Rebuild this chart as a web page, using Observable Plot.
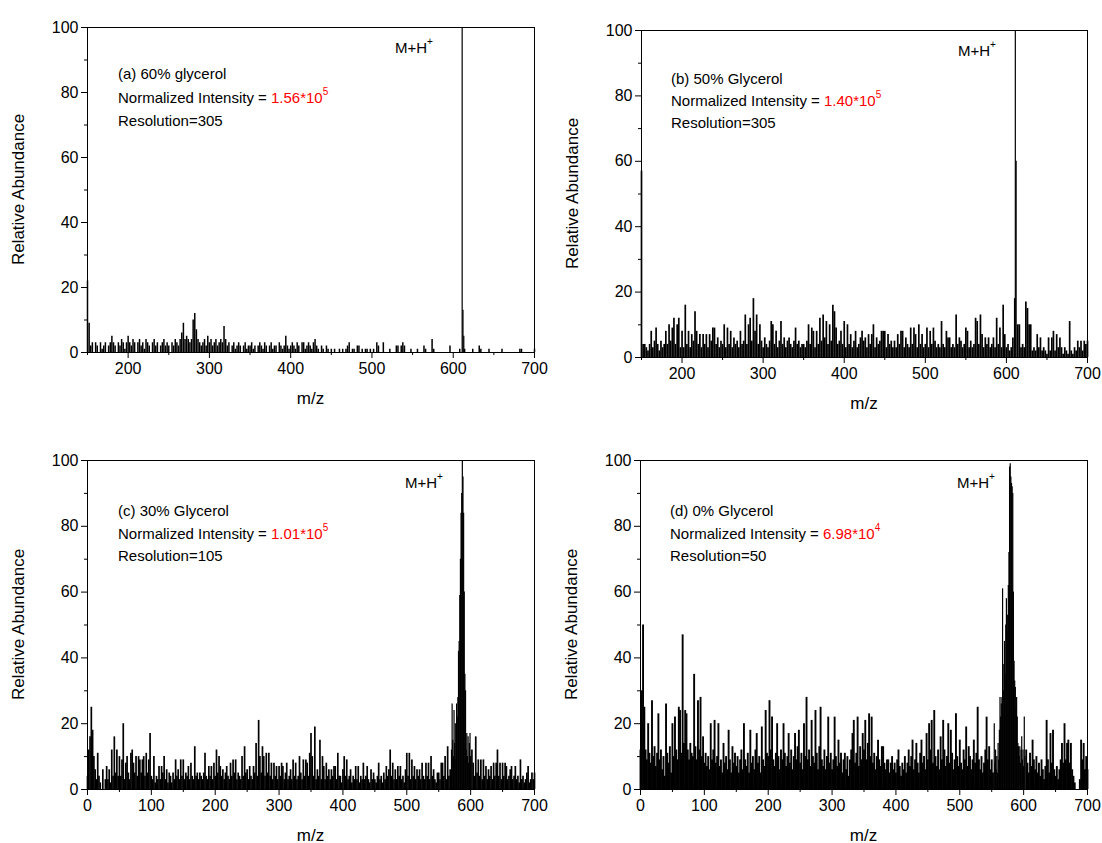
<!DOCTYPE html>
<html>
<head>
<meta charset="utf-8">
<script src="https://cdn.jsdelivr.net/npm/d3@7"></script>
<script src="https://cdn.jsdelivr.net/npm/@observablehq/plot@0.6"></script>
<style>
  html, body { margin: 0; padding: 0; background: #fff; }
  #wrap { position: relative; width: 1102px; height: 843px; overflow: hidden; background: #fff; }
  .panel { position: absolute; }
</style>
</head>
<body>
<div id="wrap"></div>
<script>
// ---------- DATA ----------
// Noise spectra: relative abundance sampled every 2 m/z units
// (a) 60% glycerol, m/z 150 .. 700
const noiseA = [
  22,9,2,3,0, 3,2,0,3,1, 2,3,0,2,3, 5,3,2,0,3, 2,4,3,1,3,
  5,3,2,4,3, 0,3,4,2,3, 1,4,3,2,0, 3,4,2,3,0, 2,3,4,2,3,
  2,0,3,2,4, 3,2,4,6,9, 4,5,4,3,4, 10,12,7,4,3, 2,3,4,2,5,
  3,4,2,3,4, 2,3,4,3,8, 4,2,3,0,2, 3,1,2,3,2, 0,2,3,1,2,
  2,3,1,2,0, 2,3,2,1,3, 2,0,2,3,1, 2,2,0,3,2, 1,2,5,2,1,
  2,3,2,1,3, 2,0,3,3,1, 2,3,2,1,3, 4,2,1,0,2, 1,0,2,1,0,
  1,0,1,0,0, 1,0,1,0,1, 2,3,0,1,1, 0,2,2,0,1, 0,1,1,0,1,
  0,1,0,3,2, 0,0,3,0,0, 0,1,0,0,0, 2,2,0,2,3, 2,0,0,0,1,
  0,0,0,1,0, 0,0,2,1,0, 0,0,4,1,0, 0,0,0,0,0, 0,0,0,2,0,
  0,0,0,0,1, 0,0,1,0,0, 0,0,1,0,0, 0,2,1,0,0, 0,0,1,0,0,
  0,0,0,0,0, 1,0,0,0,0, 0,0,0,0,0, 0,1,1,0,0, 0,0,0,0,0,
  1
];
// (b) 50% Glycerol, m/z 150 .. 700
const noiseB = [
  57,4,4,3,2, 4,8,3,5,9, 4,2,5,3,4, 8,4,10,5,9, 12,4,10,12,3,
  8,3,16,4,8, 3,7,5,14,8, 4,7,3,7,4, 7,3,7,5,9, 9,4,6,3,5,
  4,10,3,9,4, 8,3,6,4,5, 3,8,4,5,13, 4,10,12,5,18, 8,13,4,10,5,
  3,6,4,3,5, 11,10,4,8,3, 5,11,4,6,3, 5,6,4,3,5, 9,4,5,3,4,
  4,3,5,10,4, 9,8,3,8,4, 12,5,13,6,11, 4,10,5,16,14, 9,4,5,8,4,
  11,3,10,4,7, 3,5,8,3,4, 6,8,5,6,3, 7,4,7,10,3, 6,4,5,8,8,
  8,3,7,4,5, 3,5,3,7,4, 8,8,3,6,4, 3,9,4,9,7, 3,10,4,7,3,
  4,9,3,8,4, 9,5,3,4,3, 11,4,3,8,6, 6,3,4,3,13, 4,6,5,3,4,
  9,8,3,5,3, 4,12,11,4,13, 7,3,6,4,6, 3,4,6,3,12, 4,9,3,16,7,
  3,4,2,3,6, 0,0,10,10,3, 4,3,17,15,10, 10,2,3,2,7, 3,6,2,3,2,
  1,6,2,6,8, 2,7,3,6,3, 1,3,2,1,11, 2,1,3,2,5, 3,5,2,5,4,
  5
];
// (c) 30% Glycerol, m/z 0 .. 700
const noiseC = [
  4,12,16,25,18, 10,6,3,11,4, 2,0,6,0,3, 7,3,6,2,12, 4,16,5,12,4,
  10,4,9,20,3, 8,10,5,3,11, 12,8,5,10,4, 10,9,5,9,10, 4,11,5,9,17,
  4,3,10,2,4, 3,7,3,7,5, 10,3,6,2,5, 4,2,5,3,9, 4,6,3,9,4,
  9,3,5,4,7, 3,8,4,3,13, 4,5,3,5,4, 3,5,11,4,3, 7,4,7,3,8,
  4,12,5,10,7, 4,6,3,5,7, 4,3,8,4,9, 5,9,3,5,4, 3,10,4,13,5,
  6,3,7,4,3, 7,5,14,4,21, 10,5,13,10,4, 11,5,11,4,8, 3,8,4,7,3,
  7,4,8,7,3, 5,8,3,4,6, 3,9,4,8,3, 4,10,5,3,9, 4,9,8,4,11,
  17,10,4,19,3, 6,4,15,3,10, 7,3,8,4,6, 3,6,4,7,7, 3,11,4,4,2,
  6,10,4,9,3, 4,6,2,4,3, 7,3,7,2,4, 3,8,3,4,7, 3,2,6,3,5,
  3,2,4,8,3, 4,2,5,3,7, 4,6,12,4,8, 3,6,3,7,4, 7,3,4,2,6,
  11,4,11,3,9, 4,7,3,6,4, 6,3,8,4,3, 8,4,8,3,10, 4,6,3,2,5,
  5,3,8,8,4, 10,3,13,4,6, 0,0,0,0,0, 0,0,0,0,0, 0,0,0,0,0,
  0,12,8,4,16, 5,9,4,9,3, 9,4,7,3,6, 4,7,3,8,4, 8,12,4,8,3,
  8,4,8,7,3, 4,6,7,3,4, 7,3,4,2,9, 3,4,2,3,5, 7,2,3,5,3,
  5
];
// (d) 0% Glycerol, m/z 0 .. 700
const noiseD = [
  12,30,50,25,12, 9,20,11,8,27, 10,13,7,11,23, 9,12,6,10,4, 26,11,8,13,5,
  20,10,22,12,9, 25,24,11,47,14, 24,23,12,9,14, 11,10,35,13,9, 27,12,28,10,16,
  8,11,7,10,6, 20,9,12,21,8, 10,20,7,9,5, 14,8,10,6,18, 9,5,13,8,11,
  7,10,5,9,12, 6,20,9,7,11, 5,18,8,10,6, 12,17,8,10,5, 19,9,7,24,11,
  10,27,12,22,9, 7,11,20,10,6, 12,9,20,11,7, 10,17,8,12,6, 10,17,9,13,18,
  8,11,6,20,10, 28,9,12,7,21, 10,8,24,11,6, 13,25,9,7,12, 6,10,22,8,11,
  6,9,22,10,7, 15,8,11,5,9, 11,6,10,4,9, 12,17,21,8,11, 22,7,13,9,17,
  12,21,9,14,23, 10,22,8,11,6, 10,15,9,7,13, 13,8,6,9,9, 5,8,10,6,8,
  5,9,12,7,4, 8,6,10,5,8, 12,7,10,15,6, 9,14,8,5,11, 15,8,10,6,17,
  9,20,12,21,8, 24,10,7,12,6, 16,9,21,12,7, 10,20,8,18,11, 6,9,23,10,7,
  15,8,6,12,9, 19,7,13,10,6, 9,15,8,11,25, 9,6,10,5,8, 12,22,9,13,6,
  9,5,0,0,0, 0,0,0,0,0, 0,0,0,0,0, 0,0,0,0,0, 0,0,0,0,0,
  0,0,12,8,5, 11,7,15,9,6, 10,5,8,4,9, 6,3,7,21,9, 5,17,8,18,6,
  4,7,3,6,9, 14,8,20,9,14, 15,8,14,6,4, 2,0,0,0,3, 15,9,14,6,10,
  6
];
// Molecular-ion (M+H+) peak regions, 1 m/z resolution
const peakAmz  = [611, 612, 613];
const peakAval = [100, 13, 5];
const peakBmz  = [610, 611, 612];
const peakBval = [18, 100, 60];
const peakCmz  = [570,571,572,573,574,575,576,577,578,579,580,581,582,583,584,585,586,587,588,589,590,591,592,593,594,595,596,597,598,599,600];
const peakCval = [12,26,15,10,24,14,20,9,26,22,28,42,45,59,70,84,90,100,95,84,60,35,30,12,17,10,16,8,14,17,10];
const peakDmz  = [554,555,556,557,558,559,560,561,562,563,564,565,566,567,568,569,570,571,572,573,574,575,576,577,578,579,580,581,582,583,584,585,586,587,588,589,590,591,592,593,594,595,596,597,598,599,600,601,602];
const peakDval = [20,8,12,6,10,5,14,9,18,28,22,26,28,61,30,38,45,35,50,58,48,53,62,72,98,99,95,93,92,90,60,39,33,31,25,28,22,14,13,10,13,8,12,16,9,12,7,22,10];

// Axis ticks
const yMajor = [0, 20, 40, 60, 80, 100];
const yMinor = [10, 30, 50, 70, 90];
const xMajorHigh = [200, 300, 400, 500, 600, 700];
const xMinorHigh = [150, 250, 350, 450, 550, 650];
const xMajorFull = [0, 100, 200, 300, 400, 500, 600, 700];
const xMinorFull = [50, 150, 250, 350, 450, 550, 650];

// Texts
const titles = ["(a) 60% glycerol", "(b) 50% Glycerol", "(c) 30% Glycerol", "(d) 0% Glycerol"];
const intensityMant = ["1.56*10", "1.40*10", "1.01*10", "6.98*10"];
const intensityExp = ["5", "5", "5", "4"];
const resolutions = ["Resolution=305", "Resolution=305", "Resolution=105", "Resolution=50"];
const yTitle = "Relative Abundance";
const xTitle = "m/z";

// ---------- LAYOUT ----------
const FONT = "'Liberation Sans', Arial, Helvetica, sans-serif";
const ML = 90, MR = 15, MT = 30, MB = 70;
const panels = [
  { box: [87, 27, 534, 352],  domain: [150, 700], start: 150, noise: noiseA, pm: peakAmz, pv: peakAval,
    major: xMajorHigh, minor: xMinorHigh, tx: 31, ty: [46, 70, 93], ionX: 308, ionY: 20, sw: 1.5 },
  { box: [641, 30, 1087, 357], domain: [150, 700], start: 150, noise: noiseB, pm: peakBmz, pv: peakBval,
    major: xMajorHigh, minor: xMinorHigh, tx: 30, ty: [48, 70, 92], ionX: 317, ionY: 20, sw: 1.7 },
  { box: [87, 460, 534, 789],  domain: [0, 700], start: 0, noise: noiseC, pm: peakCmz, pv: peakCval,
    major: xMajorFull, minor: xMinorFull, tx: 31, ty: [50, 73, 95], ionX: 318, ionY: 22, sw: 1.7 },
  { box: [640, 460, 1087, 789], domain: [0, 700], start: 0, noise: noiseD, pm: peakDmz, pv: peakDval,
    major: xMajorFull, minor: xMinorFull, tx: 30, ty: [50, 73, 95], ionX: 317, ionY: 22, sw: 1.9 }
];

const wrap = document.getElementById("wrap");

panels.forEach((p, k) => {
  const [x0, y0, x1, y1] = p.box;
  const pw = x1 - x0, ph = y1 - y0;
  const noiseData = p.noise.map((v, i) => ({ mz: p.start + 2 * i, v }));
  const peakData = p.pm.map((m, i) => ({ mz: m, v: p.pv[i] }));

  const svg = Plot.plot({
    width: pw + ML + MR,
    height: ph + MT + MB,
    marginLeft: ML, marginRight: MR, marginTop: MT, marginBottom: MB,
    style: { fontFamily: FONT, fontSize: "16px", color: "black", background: "transparent", overflow: "visible" },
    x: { domain: p.domain },
    y: { domain: [0, 100] },
    marks: [
      Plot.ruleX(noiseData, { x: "mz", y1: 0, y2: "v", stroke: "black", strokeWidth: p.sw }),
      Plot.ruleX(peakData, { x: "mz", y1: 0, y2: "v", stroke: "black", strokeWidth: 1.2 }),
      Plot.frame({ stroke: "black", strokeWidth: 1 }),
      Plot.axisX({ ticks: p.major, tickSize: 6, tickPadding: 4, fontSize: 16, label: null, stroke: "black", fill: "black" }),
      Plot.axisX({ ticks: p.minor, tickSize: 3, tickFormat: () => "", label: null, stroke: "black" }),
      Plot.axisY({ ticks: yMajor, tickSize: 6, tickPadding: 3, fontSize: 16, label: null, stroke: "black", fill: "black" }),
      Plot.axisY({ ticks: yMinor, tickSize: 3, tickFormat: () => "", label: null, stroke: "black" })
    ]
  });

  const s = d3.select(svg);
  const g = s.append("g").attr("font-family", FONT).attr("fill", "black").attr("text-anchor", "start");

  // axis titles
  g.append("text")
    .attr("transform", `translate(${ML - 69},${MT + ph / 2}) rotate(-90)`)
    .attr("text-anchor", "middle").attr("dominant-baseline", "central")
    .attr("font-size", 17).text(yTitle);
  g.append("text")
    .attr("x", ML + pw / 2).attr("y", MT + ph + 46)
    .attr("text-anchor", "middle").attr("dominant-baseline", "central")
    .attr("font-size", 17).text(xTitle);

  // annotations
  const ax = ML + p.tx;
  g.append("text").attr("x", ax).attr("y", MT + p.ty[0]).attr("dominant-baseline", "central")
    .attr("text-anchor", "start").attr("font-size", 15).text(titles[k]);
  const t2 = g.append("text").attr("x", ax).attr("y", MT + p.ty[1]).attr("dominant-baseline", "central")
    .attr("text-anchor", "start").attr("font-size", 15);
  t2.append("tspan").text("Normalized Intensity = ");
  t2.append("tspan").attr("fill", "#ff0000").text(intensityMant[k]);
  t2.append("tspan").attr("fill", "#ff0000").attr("font-size", 10).attr("dy", -6).text(intensityExp[k]);
  g.append("text").attr("x", ax).attr("y", MT + p.ty[2]).attr("dominant-baseline", "central")
    .attr("text-anchor", "start").attr("font-size", 15).text(resolutions[k]);

  const ion = g.append("text").attr("x", ML + p.ionX).attr("y", MT + p.ionY).attr("dominant-baseline", "central")
    .attr("text-anchor", "start").attr("font-size", 15);
  ion.append("tspan").text("M+H");
  ion.append("tspan").attr("font-size", 10).attr("dy", -6).text("+");

  const div = document.createElement("div");
  div.className = "panel";
  div.style.left = (x0 - ML) + "px";
  div.style.top = (y0 - MT) + "px";
  div.appendChild(svg);
  wrap.appendChild(div);
});
</script>
</body>
</html>
